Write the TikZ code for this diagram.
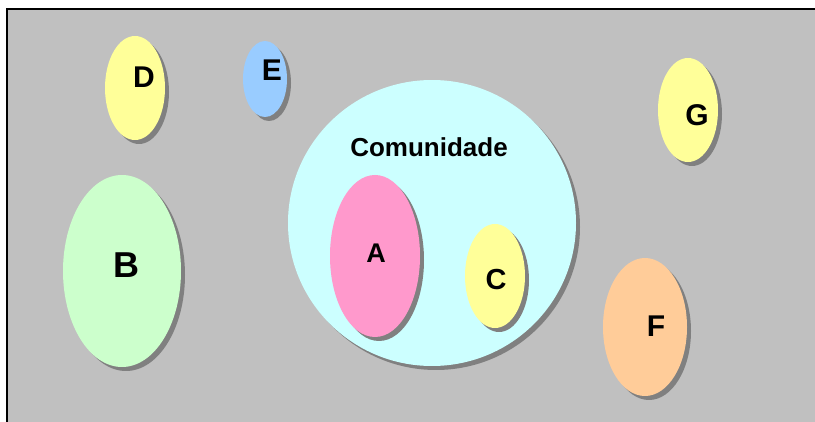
\documentclass[tikz,border=0pt]{standalone}
\usepackage{fontspec}
\setmainfont{Liberation Sans}
\usetikzlibrary{shapes.geometric,shadows}

\definecolor{panelgray}{RGB}{192,192,192}
\definecolor{shadegray}{RGB}{128,128,128}
\definecolor{comcyan}{RGB}{204,255,255}
\definecolor{blobyellow}{RGB}{255,255,153}
\definecolor{blobblue}{RGB}{153,204,255}
\definecolor{blobpink}{RGB}{255,153,204}
\definecolor{blobgreen}{RGB}{204,255,204}
\definecolor{bloborange}{RGB}{255,204,153}

\tikzset{%
  every blob/.style={
    ellipse,
    inner sep=0pt,
    draw=none,
    drop shadow={shadow xshift=4pt, shadow yshift=-4pt, fill=shadegray, opacity=1}
  },
  blob label/.style={
    inner sep=0pt,
    text=black
  },
}

\begin{document}
\begin{tikzpicture}[x=1pt, y=-1pt]

\useasboundingbox (0,0) rectangle (815,422);
\fill [white] (0,0) rectangle (815,422);
\fill [panelgray] (6.7,9.5) rectangle (815,422);
\draw [line width=2pt] (815,9.5) -- (6.7,9.5) -- (6.7,422);

% the community
\node [every blob, fill=comcyan, minimum width=288pt, minimum height=286pt]
  (comunidade) at (432,223) {};
\node [blob label, font=\bfseries\fontsize{26}{26}\selectfont]
  (comunidade-label) at (429,147) {Comunidade};

% members
\foreach \n/\x/\y/\w/\h/\c in {
    D/135/88/60/104/blobyellow,
    E/265/79/44/76/blobblue,
    B/122/271/118/192/blobgreen,
    A/375/256/90/162/blobpink,
    C/495/276/60/104/blobyellow,
    G/688/110/60/104/blobyellow,
    F/645/327/84/138/bloborange}
  \node [every blob, fill=\c, minimum width=\w pt, minimum height=\h pt]
    (blob-\n) at (\x,\y) {};

\foreach \n/\x/\y/\s in {
    D/144/77.5/30, E/272/70/30, B/126/265/36, A/376/253/27,
    C/496/280/29, G/697/115/30, F/656/326/30}
  \node [blob label, font=\bfseries\fontsize{\s}{\s}\selectfont]
    (label-\n) at (\x,\y) {\n};

\end{tikzpicture}
\end{document}
